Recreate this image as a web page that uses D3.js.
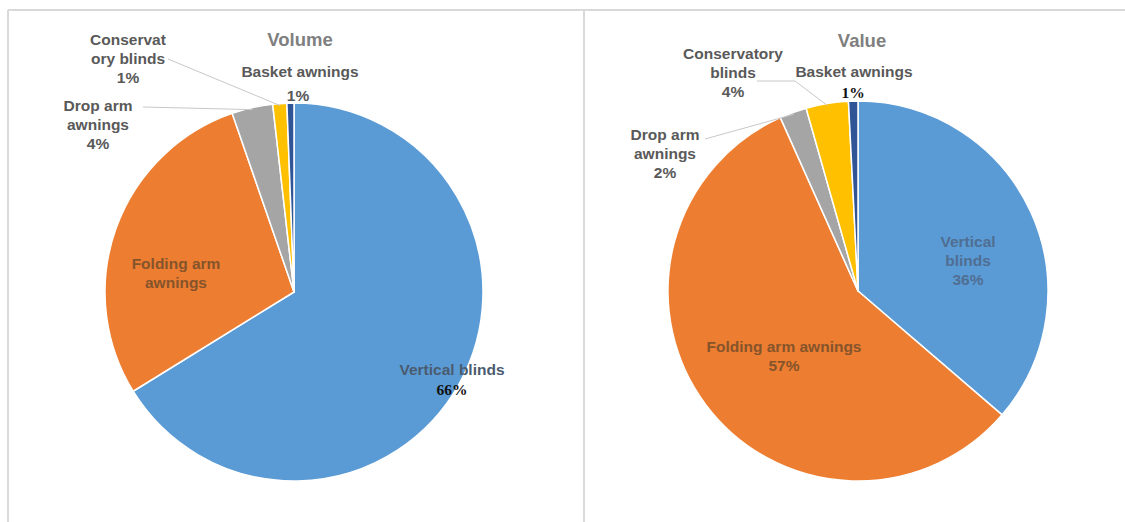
<!DOCTYPE html>
<html>
<head>
<meta charset="utf-8">
<script src="https://cdn.jsdelivr.net/npm/d3@7"></script>
<style>
  html, body { margin: 0; padding: 0; background: #ffffff; }
  svg { display: block; }
  text { font-family: "Liberation Sans", Arial, sans-serif; font-weight: bold; }
</style>
</head>
<body>
<svg id="chart" width="1125" height="522"></svg>
<script>
// ---------------- data ----------------
const categories = ["Vertical blinds", "Folding arm awnings", "Drop arm awnings", "Conservatory blinds", "Basket awnings"];
const volumeShares = [66.2, 28.5, 3.5, 1.2, 0.6];
const valueShares = [36.3, 57.0, 2.3, 3.6, 0.8];
const sliceColors = ["#5b9bd5", "#ed7d31", "#a5a5a5", "#ffc000", "#2f5597"];
const chartTitles = ["Volume", "Value"];

// label text lines
const volumeLabelLines = [
  ["Vertical blinds"],
  ["Folding arm", "awnings"],
  ["Drop arm", "awnings"],
  ["Conservat", "ory blinds"],
  ["Basket awnings"]
];
const volumeShowPct = [true, false, true, true, true];
const valueLabelLines = [
  ["Vertical", "blinds"],
  ["Folding arm awnings"],
  ["Drop arm", "awnings"],
  ["Conservatory", "blinds"],
  ["Basket awnings"]
];
const valueShowPct = [true, true, true, true, true];

// ---------------- layout ----------------
const svg = d3.select("#chart");
const panels = [
  {
    title: chartTitles[0], shares: volumeShares, lines: volumeLabelLines, showPct: volumeShowPct,
    cx: 294, cy: 292, r: 189, titleX: 300, titleY: 46,
    labels: [
      {x: 452, y: 375, color: "#4a5b70", pctColor: "#111", pctSerif: true, pctGap: 20},
      {x: 176, y: 269, color: "#85542b"},
      {x: 98, y: 111, color: "#595959"},
      {x: 128, y: 45, color: "#595959"},
      {x: 300, y: 77, color: "#595959", pctX: 298, pctGap: 24}
    ],
    leaders: [
      null, null,
      {from: [143, 107], via: null},
      {from: [168, 59], via: null},
      null
    ]
  },
  {
    title: chartTitles[1], shares: valueShares, lines: valueLabelLines, showPct: valueShowPct,
    cx: 858, cy: 291, r: 190, titleX: 862, titleY: 47,
    labels: [
      {x: 968, y: 247, color: "#4f6e92"},
      {x: 784, y: 352, color: "#85542b"},
      {x: 665, y: 140, color: "#595959"},
      {x: 733, y: 59, color: "#595959"},
      {x: 854, y: 77, color: "#595959", pctX: 853, pctGap: 21, pctColor: "#111", pctSerif: true}
    ],
    leaders: [
      null, null,
      {from: [705, 139], via: null},
      {from: [757, 81], via: [795, 81]},
      null
    ]
  }
];

// panel frame
const frame = svg.append("g").attr("stroke", "#d9d9d9").attr("stroke-width", 2).attr("fill", "none");
frame.append("line").attr("x1", 8).attr("x2", 1125).attr("y1", 10).attr("y2", 10);
frame.append("line").attr("x1", 8).attr("x2", 8).attr("y1", 10).attr("y2", 522);
frame.append("line").attr("x1", 584).attr("x2", 584).attr("y1", 10).attr("y2", 522);

const pie = d3.pie().sort(null).value(d => d);
const lineHeight = 19;
const labelSize = 15.5;

panels.forEach(p => {
  const arcs = pie(p.shares);
  const arc = d3.arc().innerRadius(0).outerRadius(p.r);
  const g = svg.append("g").attr("transform", `translate(${p.cx},${p.cy})`);

  g.selectAll("path.slice")
    .data(arcs)
    .join("path")
    .attr("class", "slice")
    .attr("d", arc)
    .attr("fill", (d, i) => sliceColors[i])
    .attr("stroke", "#ffffff")
    .attr("stroke-width", 1.5)
    .attr("stroke-linejoin", "round");

  // leader lines
  arcs.forEach((a, i) => {
    const L = p.leaders[i];
    if (!L) return;
    const mid = (a.startAngle + a.endAngle) / 2;
    const ex = p.cx + Math.sin(mid) * (p.r - 2);
    const ey = p.cy - Math.cos(mid) * (p.r - 2);
    const pts = [L.from];
    if (L.via) pts.push(L.via);
    pts.push([ex, ey]);
    svg.append("path")
      .attr("d", d3.line()(pts))
      .attr("fill", "none")
      .attr("stroke", "#c8c8c8")
      .attr("stroke-width", 1);
  });

  // title
  svg.append("text")
    .attr("x", p.titleX).attr("y", p.titleY)
    .attr("text-anchor", "middle")
    .attr("font-size", 18.5)
    .attr("fill", "#7f7f7f")
    .text(p.title);

  // labels
  arcs.forEach((a, i) => {
    const L = p.labels[i];
    const lines = p.lines[i];
    lines.forEach((t, k) => {
      svg.append("text")
        .attr("x", L.x).attr("y", L.y + k * lineHeight)
        .attr("text-anchor", "middle")
        .attr("font-size", labelSize)
        .attr("fill", L.color)
        .text(t);
    });
    if (p.showPct[i]) {
      const pct = Math.round(p.shares[i]) + "%";
      const py = L.y + (L.pctGap !== undefined ? L.pctGap : lines.length * lineHeight);
      const tx = svg.append("text")
        .attr("x", L.pctX !== undefined ? L.pctX : L.x).attr("y", py)
        .attr("text-anchor", "middle")
        .attr("font-size", labelSize)
        .attr("fill", L.pctColor || L.color)
        .text(pct);
      if (L.pctSerif) tx.style("font-family", "'Liberation Serif', 'DejaVu Serif', serif");
    }
  });
});
</script>
</body>
</html>
